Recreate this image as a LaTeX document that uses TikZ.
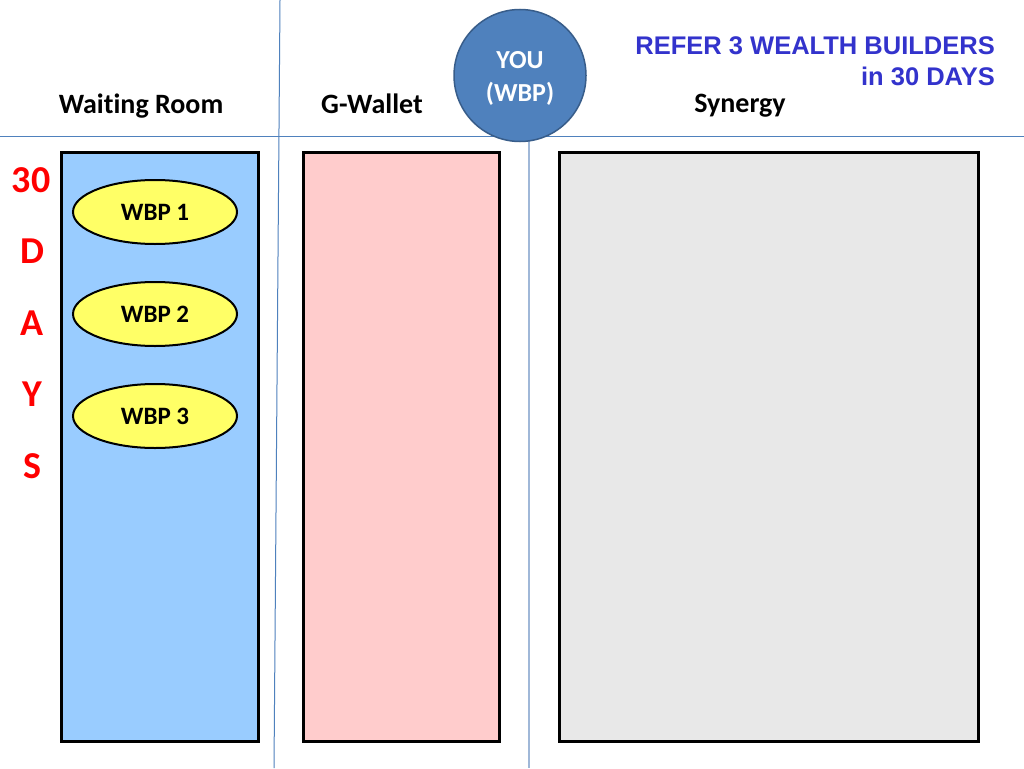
\documentclass[tikz,border=0pt]{standalone}
\usepackage{fontspec}
\setmainfont[Ligatures=NoCommon]{Carlito}
\newfontfamily\arialfont{Liberation Sans}
\usetikzlibrary{shapes.geometric}
\definecolor{divline}{RGB}{79,129,189}
\definecolor{divlight}{RGB}{160,184,216}
\definecolor{roomblue}{RGB}{153,204,255}
\definecolor{walletpink}{RGB}{255,204,204}
\definecolor{synergygray}{RGB}{232,232,232}
\definecolor{youfill}{RGB}{79,129,189}
\definecolor{youborder}{RGB}{56,93,138}
\definecolor{wbpyellow}{RGB}{255,255,102}
\definecolor{refertext}{RGB}{51,51,204}
\definecolor{dayred}{RGB}{255,0,0}
\tikzset{
  panel/.style={draw=black, line width=2.5pt},
  divider/.style={draw=divline, line width=1pt},
  heading/.style={anchor=base, font=\fontsize{28}{30}\selectfont\bfseries, text=black, inner sep=0pt},
  wbp/.style={ellipse, draw=black, line width=2pt, fill=wbpyellow, minimum width=164pt, minimum height=64pt, inner sep=0pt, font=\fontsize{25}{28}\selectfont\bfseries},
  dayletter/.style={font=\fontsize{38}{40}\selectfont\bfseries, text=dayred, inner sep=0pt},
  you/.style={circle, draw=youborder, line width=1.5pt, fill=youfill, minimum size=132pt, inner sep=0pt},
  youtext/.style={text=white, align=center, inner sep=0pt, font=\fontsize{26}{33}\selectfont\bfseries},
  refer/.style={anchor=base east, inner sep=0pt, text=refertext, font=\arialfont\fontsize{25.5}{30}\selectfont\bfseries},
}
\begin{document}
\begin{tikzpicture}[x=1pt,y=-1pt]
\useasboundingbox[fill=white] (0,0) rectangle (1024,768);
% dividers
\coordinate (hl) at (0,136);
\coordinate (hr) at (1024,136);
\coordinate (v1t) at (280,0);
\coordinate (v1b) at (274,768);
\coordinate (v2t) at (529,140);
\coordinate (v2b) at (529,768);
\draw[divider] (hl) -- (hr);
\draw[divider] (v1t) -- (v1b);
\draw[draw=divlight, line width=1.2pt] (v2t) -- (v2b);
% panels
\node[panel, fill=roomblue, minimum width=197pt, minimum height=589pt, inner sep=0pt, anchor=north west] (room) at (60,151) {};
\node[panel, fill=walletpink, minimum width=196pt, minimum height=589pt, inner sep=0pt, anchor=north west] (wallet) at (302,151) {};
\node[panel, fill=synergygray, minimum width=419pt, minimum height=589pt, inner sep=0pt, anchor=north west] (synergy) at (558,151) {};
% headings
\node[heading] (hroom) at (141,113) {Waiting Room};
\node[heading] (hwallet) at (372,113) {G-Wallet};
\node[heading] (hsyn) at (740,112) {Synergy};
% you circle
\node[you] (you) at (520,75.5) {};
\node[youtext] (youlabel) at (520,78.5) {YOU\\(WBP)};
% refer text
\node[refer] (refer1) at (995,55) {REFER 3 WEALTH BUILDERS};
\node[refer] (refer2) at (995,85) {in 30 DAYS};
% days letters
\node[dayletter] (d30) at (31,180) {30};
\node[dayletter] (dD) at (32,251) {D};
\node[dayletter] (dA) at (32,323) {A};
\node[dayletter] (dY) at (32,394) {Y};
\node[dayletter] (dS) at (32,466) {S};
% wbp ellipses
\node[wbp] (w1) at (155,212) {WBP 1};
\node[wbp] (w2) at (155,314) {WBP 2};
\node[wbp] (w3) at (155,416) {WBP 3};
\end{tikzpicture}
\end{document}
